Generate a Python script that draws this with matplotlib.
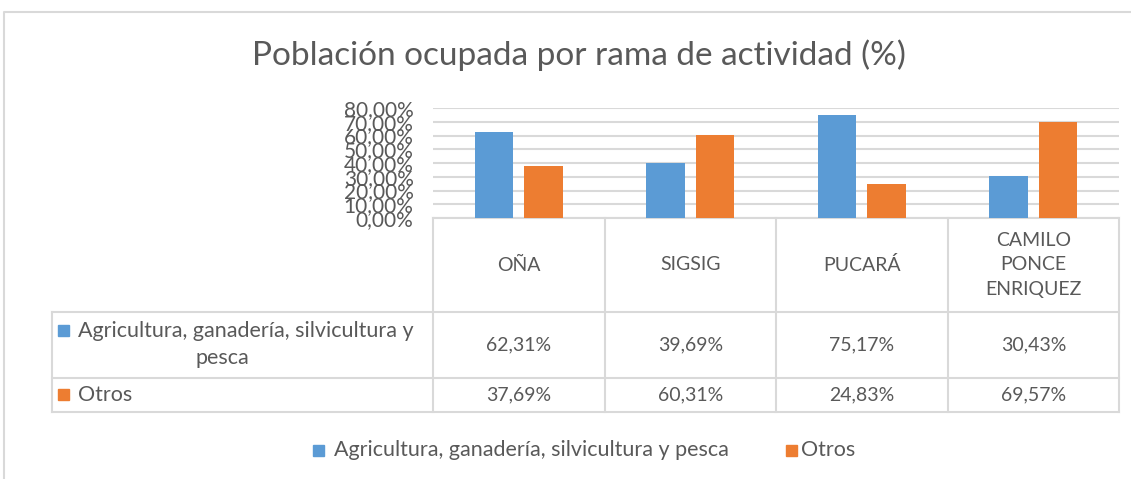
import numpy as np
import matplotlib.pyplot as plt

plt.rcParams['font.family'] = ['Lato', 'DejaVu Sans']

# Datos
municipios = ["OÑA", "SIGSIG", "PUCARÁ", "CAMILO\nPONCE\nENRIQUEZ"]
series = ["Agricultura, ganadería, silvicultura y pesca", "Otros"]
agricultura = [0.6231, 0.3969, 0.7517, 0.3043]
otros = [0.3769, 0.6031, 0.2483, 0.6957]
yticks = np.arange(0, 0.81, 0.1)

azul = "#5B9BD5"
naranja = "#ED7D31"
gris_txt = "#595959"
gris_lin = "#D9D9D9"

W, H = 1131, 479
fig = plt.figure(figsize=(W / 100, H / 100), dpi=100)

def caja(x0, y0, x1, y1):
    return [x0 / W, 1 - y1 / H, (x1 - x0) / W, (y1 - y0) / H]

def pct(v):
    return f"{v * 100:.2f}%".replace(".", ",")

# capa de fondo en pixeles para tabla, titulo y leyenda
bg = fig.add_axes([0, 0, 1, 1])
bg.set_xlim(0, W)
bg.set_ylim(H, 0)
bg.axis("off")

# borde del grafico
bg.plot([4, 4, W], [H, 12, 12], color=gris_lin, lw=1.5)

bg.text(579, 55, "Población ocupada por rama de actividad (%)", fontsize=24,
        color=gris_txt, ha="center", va="center")

# barras
ax = fig.add_axes(caja(433, 108, 1119, 218))
x = np.arange(len(municipios))
ax.bar(x - 0.145, agricultura, width=0.225, color=azul, zorder=3)
ax.bar(x + 0.145, otros, width=0.225, color=naranja, zorder=3)
ax.set_xlim(-0.5, len(municipios) - 0.5)
ax.set_ylim(0, 0.8)
ax.set_yticks(yticks)
ax.set_yticklabels([pct(v) for v in yticks], fontsize=15, color=gris_txt)
ax.yaxis.grid(True, color=gris_lin, lw=1.5, zorder=0)
ax.tick_params(axis="y", length=0, pad=14)
ax.set_xticks([])
for s in ["top", "right", "left"]:
    ax.spines[s].set_visible(False)
ax.spines["bottom"].set_color(gris_lin)
ax.spines["bottom"].set_linewidth(1.5)
ax.set_facecolor("none")

# tabla de datos
cols = [433, 605, 776, 948, 1119]
filas = [218, 312, 378, 412]
lw = 1.5
for cx in cols:
    bg.plot([cx, cx], [218, 412], color=gris_lin, lw=lw)
bg.plot([52, 52], [312, 412], color=gris_lin, lw=lw)
for fy in filas[1:]:
    bg.plot([52, 1119], [fy, fy], color=gris_lin, lw=lw)

fs = 14
fs_txt = 15.5
for i, m in enumerate(municipios):
    cx = (cols[i] + cols[i + 1]) / 2
    bg.text(cx, 265, m, fontsize=fs, color=gris_txt, ha="center", va="center",
            linespacing=1.5)
    bg.text(cx, 345, pct(agricultura[i]), fontsize=fs, color=gris_txt,
            ha="center", va="center")
    bg.text(cx, 395, pct(otros[i]), fontsize=fs, color=gris_txt,
            ha="center", va="center")

bg.add_patch(plt.Rectangle((58, 325), 11, 11, color=azul))
bg.text(78, 331, "Agricultura, ganadería, silvicultura y", fontsize=fs_txt,
        color=gris_txt, ha="left", va="center")
bg.text(222, 358, "pesca", fontsize=fs_txt, color=gris_txt, ha="center", va="center")
bg.add_patch(plt.Rectangle((58, 389), 11, 11, color=naranja))
bg.text(78, 395, "Otros", fontsize=fs_txt, color=gris_txt, ha="left", va="center")

# leyenda
bg.add_patch(plt.Rectangle((313, 445), 11, 11, color=azul))
bg.text(334, 450, series[0], fontsize=fs_txt, color=gris_txt, ha="left", va="center")
bg.add_patch(plt.Rectangle((786, 445), 11, 11, color=naranja))
bg.text(801, 450, series[1], fontsize=fs_txt, color=gris_txt, ha="left", va="center")

fig.savefig("out.png", dpi=100)
